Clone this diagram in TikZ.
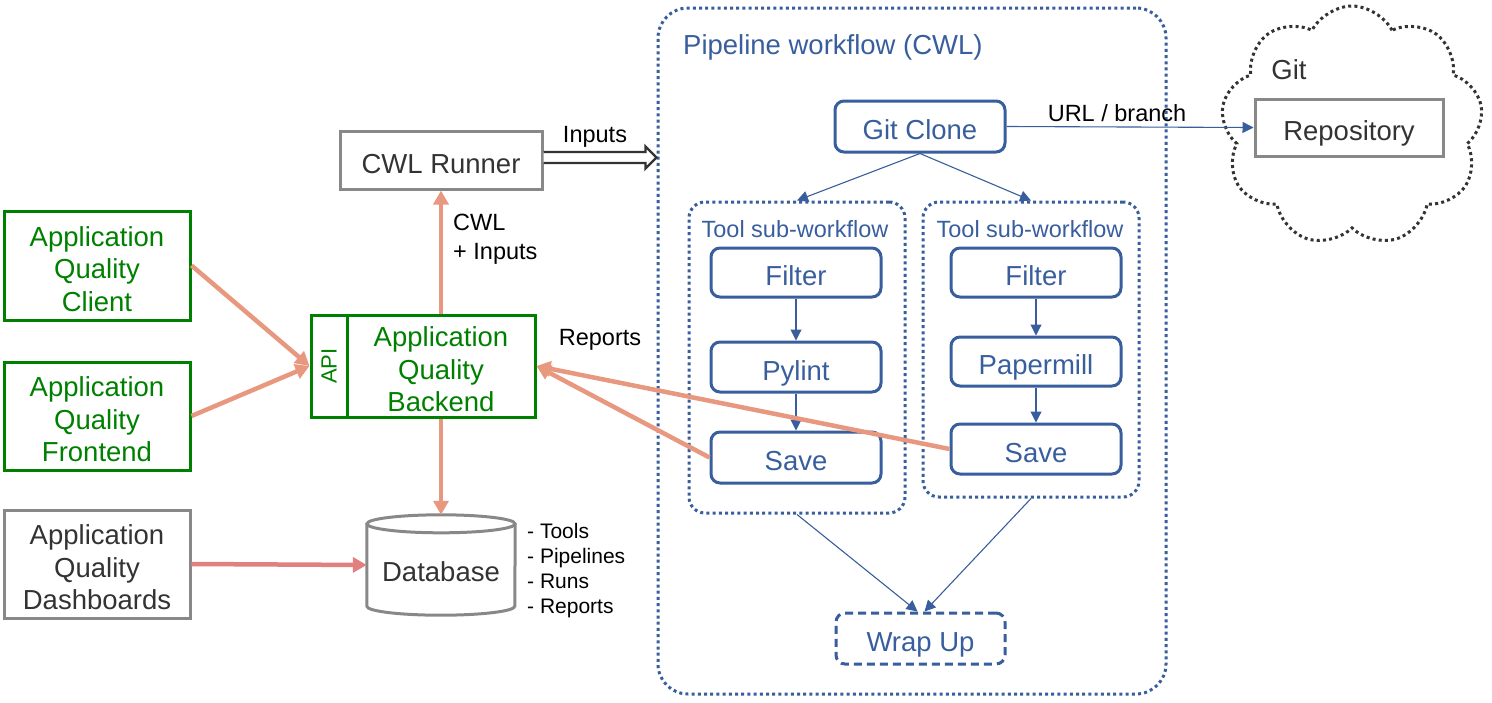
\documentclass[tikz,border=0pt]{standalone}
\usepackage{fontspec}
\setmainfont{Liberation Sans}
\usetikzlibrary{arrows.meta,calc,shapes.symbols,shapes.geometric}
\definecolor{agreen}{RGB}{0,128,0}
\definecolor{ablue}{RGB}{56,94,157}
\definecolor{agrey}{RGB}{136,136,136}
\definecolor{adark}{RGB}{51,51,51}
\definecolor{aorange}{RGB}{232,152,126}
\definecolor{ared}{RGB}{224,128,128}
\begin{document}
\begin{tikzpicture}[x=1pt,y=-1pt,
  big/.style={font=\fontsize{27.5}{32.5}\selectfont},
  mid/.style={font=\fontsize{23.5}{29}\selectfont},
  lowone/.style={text height=26pt, text depth=0pt},
  lowthree/.style={text height=91pt, text depth=0pt},
  greenbox/.style={draw=agreen, line width=3pt, text=agreen, big, align=center, inner sep=0pt},
  greybox/.style={draw=agrey, line width=3pt, text=adark, big, align=center, inner sep=0pt},
  bluebox/.style={draw=ablue, line width=3pt, rounded corners=9pt, text=ablue, big, inner sep=0pt, minimum width=170pt, lowone},
  dotbox/.style={draw=ablue, line width=3pt, dash pattern=on 3pt off 3.2pt, inner sep=0pt},
  oarrow/.style={draw=aorange, line width=4.5pt, -{Triangle[length=14pt,width=15pt]}},
  barrow/.style={draw=ablue, line width=1.1pt, -{Triangle[length=11pt,width=11pt]}},
  lbl/.style={mid, text=black, inner sep=0pt},
]
\useasboundingbox (0,0) rectangle (1492,702);

% left column
\node[greenbox, lowthree, minimum width=186pt, minimum height=109pt] (client) at (97,265.5) {Application\\Quality\\Client};
\node[greenbox, lowthree, minimum width=186pt, minimum height=108pt] (front) at (97,416) {Application\\Quality\\Frontend};
\node[greybox, lowthree, minimum width=186pt, minimum height=108pt] (dash) at (97,564) {Application\\Quality\\Dashboards};

% backend
\node[greenbox, minimum width=36pt, minimum height=102pt] (api) at (329,366) {\fontsize{22}{26}\selectfont\rotatebox{90}{API}};
\node[greenbox, lowthree, minimum width=188pt, minimum height=102pt] (back) at (441,366) {Application\\Quality\\Backend};

% runner
\node[greybox, lowone, minimum width=202pt, minimum height=58pt] (runner) at (441,160) {CWL Runner};

% database
\node[minimum width=148pt, minimum height=100pt, inner sep=0pt] (db) at (441,565) {};
\draw[agrey, line width=3pt] ($(db.north west)+(0,9)$) -- ($(db.south west)+(0,-9)$)
  arc[start angle=180, end angle=360, x radius=74pt, y radius=9pt] -- ($(db.north east)+(0,9)$);
\draw[agrey, line width=3pt] ($(db.north)+(0,9)$) ellipse [x radius=74pt, y radius=9pt];
\node[big, text=adark] (dblabel) at (441,572) {Database};
\node[font=\fontsize{21}{25}\selectfont, align=left, anchor=west, inner sep=0pt, text=black] (dblist) at (527,571) {- Tools\\- Pipelines\\- Runs\\- Reports};

% pipeline
\node[dotbox, rounded corners=30pt, minimum width=508pt, minimum height=686pt] (pipe) at (912,351) {};
\node[big, text=ablue, anchor=west, inner sep=0pt] (ptitle) at (683,47) {Pipeline workflow (CWL)};
\node[bluebox, minimum height=51pt] (clone) at (920,126.5) {Git Clone};
\node[dotbox, rounded corners=16pt, minimum width=216pt, minimum height=311pt] (lsub) at (797,357.5) {};
\node[dotbox, rounded corners=16pt, minimum width=216pt, minimum height=295pt] (rsub) at (1031,349.5) {};
\node[mid, text=ablue, inner sep=0pt] (ltitle) at (795,229) {Tool sub-workflow};
\node[mid, text=ablue, inner sep=0pt] (rtitle) at (1030,229) {Tool sub-workflow};
\node[bluebox, minimum height=49pt] (lfilter) at (796,272.5) {Filter};
\node[bluebox, minimum height=50pt] (pylint) at (796,367) {Pylint};
\node[bluebox, minimum height=51pt] (lsave) at (796,457.5) {Save};
\node[bluebox, minimum height=49pt] (rfilter) at (1036,272.5) {Filter};
\node[bluebox, minimum height=49pt] (paper) at (1036,361.5) {Papermill};
\node[bluebox, minimum height=50pt] (rsave) at (1036,449) {Save};
\node[bluebox, dash pattern=on 8pt off 5pt, minimum width=169pt, minimum height=51pt] (wrap) at (920.5,638.5) {Wrap Up};

% git cloud
\node[cloud, cloud puffs=9, cloud puff arc=125, cloud ignores aspect, minimum width=262pt, minimum height=240pt,
  draw=adark, line width=3pt, dash pattern=on 3pt off 3.2pt] (cloud) at (1352,126) {};
\node[big, text=adark, inner sep=0pt] (gitlbl) at (1289,70) {Git};
\node[greybox, lowone, minimum width=188pt, minimum height=57pt] (repo) at (1349,127.5) {Repository};

% blue arrows
\draw[barrow] (clone.south) -- (lsub.north);
\draw[barrow] (clone.south) -- (rsub.north);
\draw[barrow] (lfilter.south) -- (pylint.north);
\draw[barrow] (pylint.south) -- (lsave.north);
\draw[barrow] (rfilter.south) -- (paper.north);
\draw[barrow] (paper.south) -- (rsave.north);
\draw[barrow] (lsub.south) -- ($(wrap.north)+(-3,0)$);
\draw[barrow] (rsub.south) -- ($(wrap.north)+(4,0)$);
\draw[barrow] (clone.east) -- (repo.west);
\node[lbl] (urllbl) at (1117,113) {URL / branch};

% inputs double arrow
\coordinate (ia) at ($(runner.east)+(0,-2.5)$);
\coordinate (ib) at (ia -| pipe.west);
\draw[draw=adark, fill=white, line width=2.4pt, line join=miter]
  ($(ia)+(0,-5.5)$) -- ($(ib)+(-11,-5.5)$) -- ($(ib)+(-11,-11)$) -- (ib) -- ($(ib)+(-11,11)$) -- ($(ib)+(-11,5.5)$) -- ($(ia)+(0,5.5)$);
\node[lbl] (inlbl) at (595,137) {Inputs};

% orange arrows
\draw[oarrow] (back.north) -- (runner.south);
\node[lbl, align=left, anchor=west] (cwllbl) at (453,239) {CWL\\+ Inputs};
\draw[oarrow] (back.south) -- (db.north);
\draw[oarrow] (client.east) -- (api.west);
\draw[oarrow] (front.east) -- (api.west);
\draw[oarrow, draw=ared] (dash.east) -- (db.west);
\draw[oarrow] (lsave.west) -- (back.east);
\draw[oarrow] (rsave.west) -- (back.east);
\node[lbl] (replbl) at (600,340) {Reports};
\end{tikzpicture}
\end{document}
